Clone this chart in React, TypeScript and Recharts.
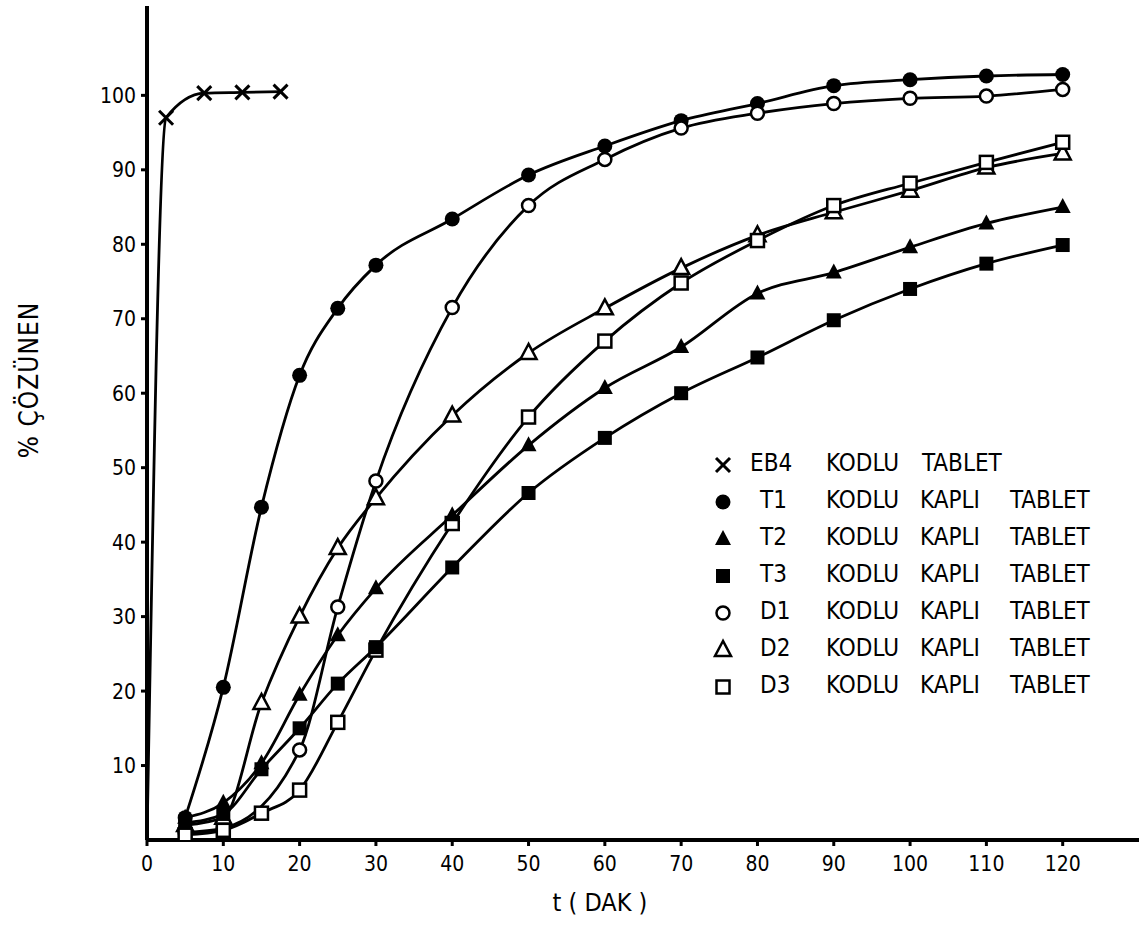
import React from 'react';
import { LineChart, Line, XAxis, YAxis, Label } from 'recharts';

// ---- data ----
const timesEB4 = [0, 2.5, 7.5, 12.5, 17.5];
const valuesEB4 = [0, 97, 100.3, 100.4, 100.5];

const times = [5, 10, 15, 20, 25, 30, 40, 50, 60, 70, 80, 90, 100, 110, 120];
const valuesT1 = [3, 20.5, 44.7, 62.4, 71.4, 77.2, 83.4, 89.3, 93.2, 96.6, 98.9, 101.3, 102.1, 102.6, 102.8];
const valuesT2 = [3, 5, 10.3, 19.5, 27.5, 33.8, 43.6, 53, 60.7, 66.2, 73.4, 76.2, 79.6, 82.8, 85];
const valuesT3 = [2.3, 3.5, 9.5, 15, 21, 25.9, 36.6, 46.6, 54, 60, 64.8, 69.8, 74, 77.4, 79.9];
const valuesD1 = [1, 1.6, null, 12.1, 31.3, 48.2, 71.5, 85.2, 91.4, 95.6, 97.6, 98.9, 99.6, 99.9, 100.8];
const valuesD2 = [2, 3, 18.4, 30, 39.2, 45.9, 57, 65.4, 71.4, 76.8, 81.2, 84.3, 87.2, 90.3, 92.2];
const valuesD3 = [0.7, 1.3, 3.6, 6.7, 15.8, 25.5, 42.5, 56.8, 67, 74.8, 80.5, 85.2, 88.2, 91, 93.7];

const xTicks = [0, 10, 20, 30, 40, 50, 60, 70, 80, 90, 100, 110, 120];
const yTicks = [10, 20, 30, 40, 50, 60, 70, 80, 90, 100];

const legendCodes = ['EB4', 'T1', 'T2', 'T3', 'D1', 'D2', 'D3'];
const legendShapes = ['cross', 'disc', 'tri', 'sq', 'circle', 'otri', 'osq'];

const build = (ts: number[], vs: (number | null)[]) => ts.map((t, i) => ({ t, v: vs[i] }));

const FONT = '"DejaVu Sans Condensed", "Liberation Sans Narrow", "DejaVu Sans", sans-serif';

function Marker({ shape, cx, cy }: { shape: string; cx: number; cy: number }) {
  switch (shape) {
    case 'cross':
      return (
        <g stroke="#000" strokeWidth={3}>
          <line x1={cx - 7} y1={cy - 7} x2={cx + 7} y2={cy + 7} />
          <line x1={cx - 7} y1={cy + 7} x2={cx + 7} y2={cy - 7} />
        </g>
      );
    case 'disc':
      return <circle cx={cx} cy={cy} r={7.5} fill="#000" />;
    case 'circle':
      return <circle cx={cx} cy={cy} r={6.5} fill="#fff" stroke="#000" strokeWidth={2.5} />;
    case 'tri':
      return <polygon points={`${cx},${cy - 9} ${cx - 8},${cy + 6} ${cx + 8},${cy + 6}`} fill="#000" />;
    case 'otri':
      return (
        <polygon
          points={`${cx},${cy - 9} ${cx - 8},${cy + 6} ${cx + 8},${cy + 6}`}
          fill="#fff"
          stroke="#000"
          strokeWidth={2.5}
        />
      );
    case 'sq':
      return <rect x={cx - 7} y={cy - 7} width={14} height={14} fill="#000" />;
    case 'osq':
      return <rect x={cx - 6.5} y={cy - 6.5} width={13} height={13} fill="#fff" stroke="#000" strokeWidth={2.5} />;
    default:
      return null;
  }
}

const makeDot = (shape: string) => (props: any) => {
  const { cx, cy, payload, index } = props;
  if (cx == null || cy == null || payload == null || payload.v == null || payload.t === 0) {
    return <g key={`e-${shape}-${index}`} />;
  }
  return (
    <g key={`d-${shape}-${index}`}>
      <Marker shape={shape} cx={cx} cy={cy} />
    </g>
  );
};

const series = [
  { name: 'EB4', data: build(timesEB4, valuesEB4), shape: 'cross' },
  { name: 'T1', data: build(times, valuesT1), shape: 'disc' },
  { name: 'D1', data: build(times, valuesD1), shape: 'circle' },
  { name: 'D2', data: build(times, valuesD2), shape: 'otri' },
  { name: 'D3', data: build(times, valuesD3), shape: 'osq' },
  { name: 'T2', data: build(times, valuesT2), shape: 'tri' },
  { name: 'T3', data: build(times, valuesT3), shape: 'sq' },
];

function LegendBox() {
  const rowTop = 449;
  const rowGap = 37;
  return (
    <div style={{ position: 'absolute', left: 0, top: 0, width: 1145, height: 929, pointerEvents: 'none', fontFamily: FONT, fontSize: 24, color: '#000', lineHeight: 1.2 }}>
      {legendCodes.map((code, i) => {
        const top = rowTop + i * rowGap;
        return (
          <div key={code}>
            <svg style={{ position: 'absolute', left: 711, top: top + 2 }} width={24} height={26}>
              <Marker shape={legendShapes[i]} cx={12} cy={14} />
            </svg>
            <span style={{ position: 'absolute', left: i === 0 ? 750 : 760, top }}>{code}</span>
            <span style={{ position: 'absolute', left: 826, top }}>KODLU</span>
            {i === 0 ? (
              <span style={{ position: 'absolute', left: 922, top }}>TABLET</span>
            ) : (
              <>
                <span style={{ position: 'absolute', left: 920, top }}>KAPLI</span>
                <span style={{ position: 'absolute', left: 1010, top }}>TABLET</span>
              </>
            )}
          </div>
        );
      })}
    </div>
  );
}

export default function App() {
  return (
    <div style={{ position: 'absolute', left: 0, top: 0, width: 1145, height: 929, background: '#fff' }}>
      <LineChart width={1145} height={929} margin={{ top: 6, right: 6, left: 0, bottom: 0 }}>
        <XAxis
          type="number"
          dataKey="t"
          domain={[0, 130]}
          ticks={xTicks}
          allowDataOverflow
          height={89}
          stroke="#000"
          strokeWidth={4}
          tickSize={6}
          tickMargin={10}
          tick={{ fill: '#000', fontSize: 21, fontFamily: FONT }}
          tickLine={{ stroke: '#000', strokeWidth: 3 }}
        >
          <Label
            content={(p: any) => {
              const vb = p.viewBox || { x: 147, y: 840 };
              return (
                <text x={vb.x + 453} y={vb.y + 71} textAnchor="middle" fontSize={25} fontFamily={FONT} fill="#000">
                  t ( DAK )
                </text>
              );
            }}
          />
        </XAxis>
        <YAxis
          type="number"
          domain={[0, 112]}
          ticks={yTicks}
          allowDataOverflow
          width={147}
          stroke="#000"
          strokeWidth={4}
          tickSize={6}
          tickMargin={5}
          tick={{ fill: '#000', fontSize: 21, fontFamily: FONT }}
          tickLine={{ stroke: '#000', strokeWidth: 3 }}
        >
          <Label
            content={() => (
              <text
                x={38}
                y={380}
                transform="rotate(-90 38 380)"
                textAnchor="middle"
                fontSize={26}
                letterSpacing={1}
                fontFamily={FONT}
                fill="#000"
              >
                % ÇÖZÜNEN
              </text>
            )}
          />
        </YAxis>
        {series.map((s) => (
          <Line
            key={s.name}
            name={s.name}
            data={s.data}
            dataKey="v"
            type="monotone"
            stroke="#000"
            strokeWidth={2.8}
            connectNulls
            isAnimationActive={false}
            dot={makeDot(s.shape)}
            activeDot={false}
          />
        ))}
      </LineChart>
      <LegendBox />
    </div>
  );
}
